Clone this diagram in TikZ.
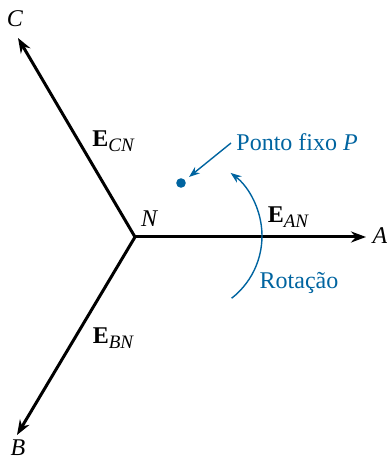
\documentclass[tikz,border=0pt]{standalone}
\usepackage{fontspec}
\setmainfont{Liberation Serif}
\usetikzlibrary{arrows.meta}
\definecolor{rotblue}{RGB}{0,100,160}
\newcommand{\phasorlbl}[1]{\textbf{E}\raisebox{-0.45ex}{\fontsize{9.5}{11}\selectfont\itshape #1}}

\begin{document}
\begin{tikzpicture}[x=0.5pt,y=0.5pt,baseline=(current bounding box.center),
  vec/.style={line width=1.5pt,-{Stealth[length=7.5pt,width=5.5pt]}},
  blue arrow/.style={rotblue,line width=0.7pt,-{Stealth[length=5.5pt,width=4pt]}},
  every node/.style={font=\fontsize{12}{14}\selectfont}]
  \useasboundingbox (0,0) rectangle (386,459);
  \coordinate (N) at (135,222);
  \coordinate (A) at (366,222);
  \coordinate (B) at (17,24);
  \coordinate (C) at (18,421);
  \draw[vec] (N) -- (A);
  \draw[vec] (N) -- (B);
  \draw[vec] (N) -- (C);
  \node (labN) at (149,240) {\itshape N};
  \node (labA) at (380,223) {\itshape A};
  \node (labB) at (18,11) {\itshape B};
  \node (labC) at (15,440) {\itshape C};
  \node (eCN) at (113,318) {\phasorlbl{CN}};
  \node (eBN) at (113,121) {\phasorlbl{BN}};
  \node (eAN) at (288,242) {\phasorlbl{AN}};
  % fixed point and its label
  \coordinate (P) at (181,276);
  \fill[rotblue] (P) circle (4.8);
  \node[rotblue,anchor=west,inner sep=0pt] (ponto) at (236,317) {Ponto fixo \textit{P}};
  \coordinate (Ptail) at (231,316);
  \coordinate (Phead) at (189,282);
  \draw[blue arrow] (Ptail) -- (Phead);
  % rotation
  \draw[blue arrow] (183,223) ++(-52:79) arc (-52:53:79);
  \node[rotblue] (rot) at (299,176) {Rotação};
\end{tikzpicture}
\end{document}
